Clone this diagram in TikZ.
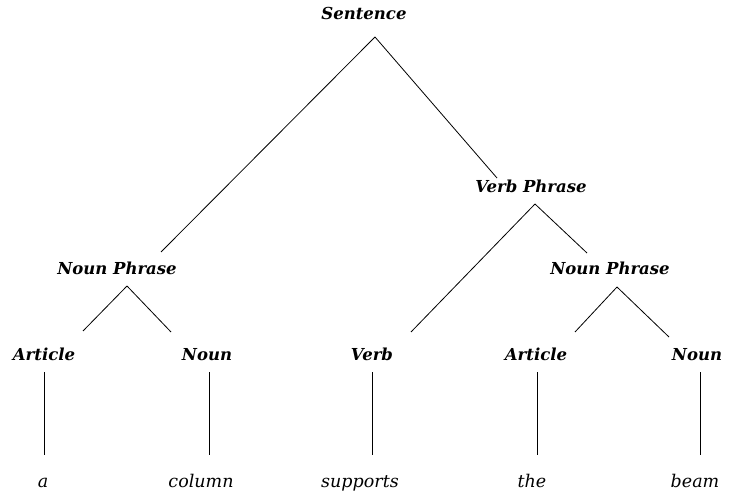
\documentclass[tikz,border=0pt]{standalone}
\usepackage{fontspec}
\setmainfont{DejaVu Serif}
\begin{document}
\begin{tikzpicture}[x=1pt,y=-1pt,
  cat/.style={font=\fontsize{16.5}{17}\selectfont\bfseries\itshape, anchor=base, inner sep=0pt},
  word/.style={font=\fontsize{17.5}{18}\selectfont\itshape, anchor=base, inner sep=0pt},
  branch/.style={line width=0.8pt, black}]
\useasboundingbox (0,0) rectangle (734,497);
% categories
\node[cat] (s)   at (364,20)  {Sentence};
\node[cat] (vp)  at (531,193) {Verb Phrase};
\node[cat] (np1) at (117,275) {Noun Phrase};
\node[cat] (np2) at (610,275) {Noun Phrase};
\node[cat] (art1) at (44,360)  {Article};
\node[cat] (n1)   at (207,360) {Noun};
\node[cat] (v)    at (372,360) {Verb};
\node[cat] (art2) at (536,360) {Article};
\node[cat] (n2)   at (697,360) {Noun};
% words
\node[word] (wa) at (43,487)  {a};
\node[word] (wc) at (201,487) {column};
\node[word] (ws) at (360,487) {supports};
\node[word] (wt) at (532,487) {the};
\node[word] (wb) at (695,487) {beam};
% branch points
\coordinate (s-b)   at (375,37);
\coordinate (np1-t) at (161,252);
\coordinate (vp-t)  at (497,178);
\coordinate (vp-b)  at (535,204);
\coordinate (v-t)   at (411,332);
\coordinate (np2-t) at (587,253);
\coordinate (np1-b) at (127,286);
\coordinate (art1-t) at (83,331);
\coordinate (n1-t)  at (171,332);
\coordinate (np2-b) at (617,287);
\coordinate (art2-t) at (575,332);
\coordinate (n2-t)  at (669,337);
% leaf stems
\coordinate (art1-s) at (44,372);  \coordinate (wa-s) at (44,455);
\coordinate (n1-s)   at (209,372); \coordinate (wc-s) at (209,455);
\coordinate (v-s)    at (372,372); \coordinate (ws-s) at (372,455);
\coordinate (art2-s) at (537,372); \coordinate (wt-s) at (537,455);
\coordinate (n2-s)   at (700,372); \coordinate (wb-s) at (700,455);
% connectors
\draw[branch] (s-b) -- (np1-t);
\draw[branch] (s-b) -- (vp-t);
\draw[branch] (vp-b) -- (v-t);
\draw[branch] (vp-b) -- (np2-t);
\draw[branch] (np1-b) -- (art1-t);
\draw[branch] (np1-b) -- (n1-t);
\draw[branch] (np2-b) -- (art2-t);
\draw[branch] (np2-b) -- (n2-t);
\draw[branch] (art1-s) -- (wa-s);
\draw[branch] (n1-s) -- (wc-s);
\draw[branch] (v-s) -- (ws-s);
\draw[branch] (art2-s) -- (wt-s);
\draw[branch] (n2-s) -- (wb-s);
\end{tikzpicture}
\end{document}
